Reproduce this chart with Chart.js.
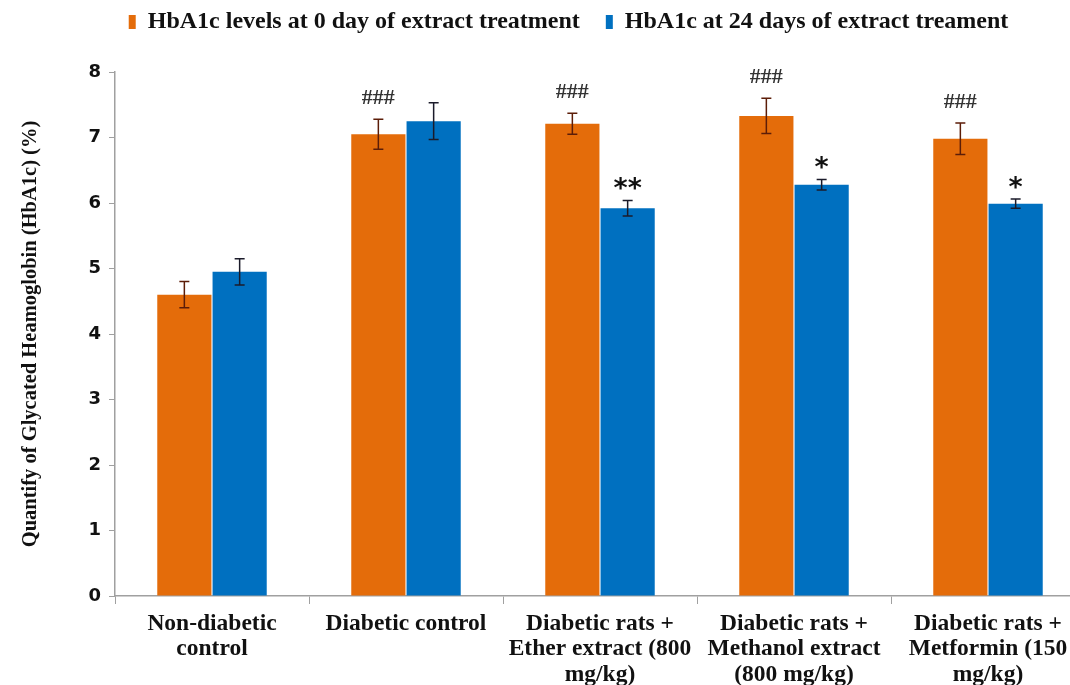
<!DOCTYPE html>
<html>
<head>
<meta charset="utf-8">
<script src="https://cdn.jsdelivr.net/npm/chart.js@4.4.1/dist/chart.umd.min.js"></script>
<style>
  html, body { margin: 0; padding: 0; background: #fff; overflow: hidden; }
  #wrap { width: 1090px; height: 685px; }
</style>
</head>
<body>
<div id="wrap"><canvas id="chart" width="1090" height="685"></canvas></div>
<script>
// --- data ---
const groups = [
    ['Non-diabetic', 'control'],
    ['Diabetic control'],
    ['Diabetic rats +', 'Ether extract (800', 'mg/kg)'],
    ['Diabetic rats +', 'Methanol extract', '(800 mg/kg)'],
    ['Diabetic rats +', 'Metformin (150', 'mg/kg)']
];
const day0 = [4.6, 7.05, 7.21, 7.33, 6.98];
const day0Err = [0.2, 0.23, 0.16, 0.27, 0.24];
const day24 = [4.95, 7.25, 5.92, 6.28, 5.99];
const day24Err = [0.2, 0.28, 0.12, 0.08, 0.07];
const day0Marks = ['', '###', '###', '###', '###'];
const day24Marks = ['', '', '**', '*', '*'];
const yTicks = [0, 1, 2, 3, 4, 5, 6, 7, 8];

const ORANGE = '#e46c0a';
const BLUE = '#0070c0';
const SERIF = '"Liberation Serif", "Times New Roman", serif';

// error bars + significance marks, positioned from the bar elements / y scale
const errorBarPlugin = {
    id: 'errorBars',
    afterDatasetsDraw(chart) {
        const ctx = chart.ctx;
        const y = chart.scales.y;
        const sets = [
            { err: day0Err, marks: day0Marks, color: '#5c1d08', font: 'bold 22px ' + SERIF, markColor: '#333' },
            { err: day24Err, marks: day24Marks, color: '#1b1b2a', font: 'bold 27px "DejaVu Sans", sans-serif', markColor: '#111' }
        ];
        sets.forEach((s, di) => {
            const meta = chart.getDatasetMeta(di);
            const vals = chart.data.datasets[di].data;
            meta.data.forEach((bar, i) => {
                const top = y.getPixelForValue(vals[i] + s.err[i]);
                const bot = y.getPixelForValue(vals[i] - s.err[i]);
                ctx.save();
                ctx.strokeStyle = s.color;
                ctx.lineWidth = 1.5;
                ctx.beginPath();
                ctx.moveTo(bar.x, top); ctx.lineTo(bar.x, bot);
                ctx.moveTo(bar.x - 5, top); ctx.lineTo(bar.x + 5, top);
                ctx.moveTo(bar.x - 5, bot); ctx.lineTo(bar.x + 5, bot);
                ctx.stroke();
                if (s.marks[i]) {
                    ctx.fillStyle = s.markColor;
                    ctx.font = s.font;
                    ctx.textAlign = 'center';
                    ctx.textBaseline = 'bottom';
                    const off = di === 0 ? 10 : -3;
                    ctx.fillText(s.marks[i], bar.x, top - off);
                }
                ctx.restore();
            });
        });
    }
};

// legend sits higher with a bigger gap under it, and a bit to the right
const legendTweak = {
    id: 'legendTweak',
    beforeLayout(chart) {
        const lg = chart.legend;
        if (lg && !lg._tweaked) {
            const fit = lg.fit;
            lg.fit = function () { fit.call(this); this.height += 12; };
            lg._tweaked = true;
        }
    },
    afterLayout(chart) {
        chart.legend.left += 26;
        chart.legend.right += 26;
        chart.legend.top -= 16;
        chart.legend.bottom -= 16;
    }
};

new Chart(document.getElementById('chart'), {
    type: 'bar',
    data: {
        labels: groups,
        datasets: [
            {
                label: 'HbA1c levels at 0 day of extract treatment',
                data: day0,
                backgroundColor: ORANGE,
                categoryPercentage: 0.57,
                barPercentage: 0.98
            },
            {
                label: 'HbA1c at 24 days of extract treament',
                data: day24,
                backgroundColor: BLUE,
                categoryPercentage: 0.57,
                barPercentage: 0.98
            }
        ]
    },
    options: {
        responsive: false,
        animation: false,
        layout: { padding: { top: 0, right: 5, left: 0, bottom: 0 } },
        plugins: {
            tooltip: { enabled: false },
            legend: {
                position: 'top',
                labels: {
                    color: '#111',
                    font: { family: SERIF, size: 24, weight: 'bold' },
                    boxWidth: 7,
                    boxHeight: 14,
                    padding: 26
                }
            }
        },
        scales: {
            x: {
                grid: { display: true, drawOnChartArea: false, color: '#a0a0a0', tickLength: 8 },
                border: { color: '#a0a0a0', width: 1.5 },
                ticks: {
                    color: '#111',
                    font: { family: SERIF, size: 23.5, weight: 'bold', lineHeight: 1.08 },
                    maxRotation: 0,
                    autoSkip: false,
                    padding: 7
                },
                afterFit: (s) => { s.height = 89; }
            },
            y: {
                min: 0,
                max: 8,
                afterBuildTicks: (s) => { s.ticks = yTicks.map(v => ({ value: v })); },
                grid: { display: true, drawOnChartArea: false, color: '#a0a0a0', tickLength: 6 },
                border: { color: '#a0a0a0', width: 1.5 },
                ticks: {
                    color: '#111',
                    font: { family: '"DejaVu Sans", sans-serif', size: 18, weight: 'bold' },
                    padding: 8
                },
                title: {
                    display: true,
                    text: 'Quantify of Glycated Heamoglobin (HbA1c) (%)',
                    color: '#111',
                    font: { family: SERIF, size: 20.5, weight: 'bold' },
                    padding: { top: 18, bottom: 10 }
                },
                afterFit: (s) => { s.width = 115; }
            }
        }
    },
    plugins: [errorBarPlugin, legendTweak]
});
</script>
</body>
</html>
